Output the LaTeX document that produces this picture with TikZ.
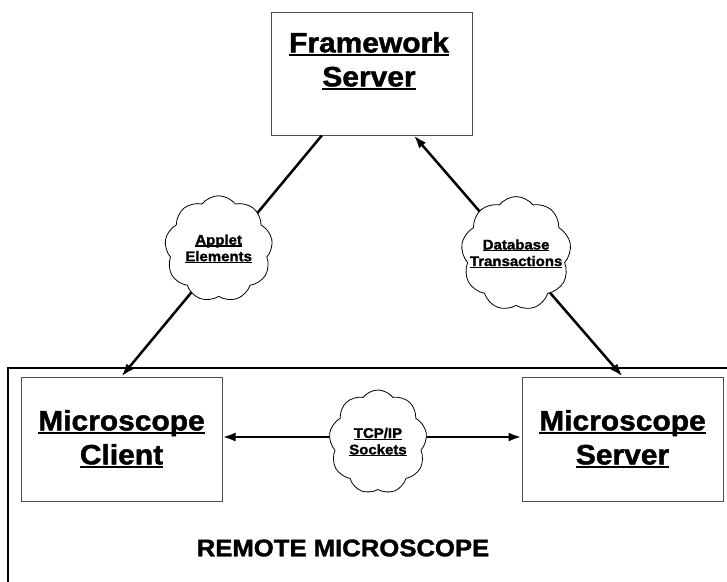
\documentclass[tikz,border=0pt]{standalone}
\usepackage{fontspec}
\setmainfont{Liberation Sans}
\newfontfamily\heavy[FakeBold=1.6,FakeStretch=1.07]{Liberation Sans Bold}
\usetikzlibrary{shapes.symbols,arrows.meta,calc}
\newcommand\ulx[1]{\setbox0\hbox{#1}\rlap{\usebox0}\raisebox{-0.13em}{\rule{\wd0}{0.08em}}}
\tikzset{
  boxnode/.style={draw=black!70, line width=1, minimum width=201, minimum height=124, inner sep=0},
  bigtext/.style={font=\heavy\fontsize{28}{34}\selectfont, align=center},
  cloudnode/.style={cloud, cloud puffs=9, cloud puff arc=105, draw, fill=white, line width=0.8,
     minimum width=106, minimum height=106, inner sep=0, align=center,
     font=\heavy\fontsize{14}{16.5}\selectfont},
  arr/.style={line width=2.5, -{Latex[length=13,width=9]}},
  darr/.style={line width=2.5, {Latex[length=13,width=9]}-{Latex[length=13,width=9]}}
}
\begin{document}
\begin{tikzpicture}[x=1pt,y=-1pt]
\useasboundingbox (0,0) rectangle (727,581);
\clip (0,0) rectangle (727,581);
\fill[white] (0,0) rectangle (727,581);
\draw[line width=2.5] (8,368) rectangle (780,640);
\node[boxnode, minimum height=123] (fw) at (371.5,73.5) {};
\node[bigtext] (fwtext) at (369,61) {\ulx{Framework}\\\ulx{Server}};
\node[boxnode, bigtext] (cl) at (121.5,439) {\ulx{Microscope}\\\ulx{Client}};
\node[boxnode, bigtext] (sv) at (622.5,439) {\ulx{Microscope}\\\ulx{Server}};
\coordinate (fwL) at ($(fw.south west)!0.254!(fw.south east)$);
\coordinate (fwR) at ($(fw.south west)!0.71!(fw.south east)$);
\draw[arr] (fwL) -- node[cloudnode, pos=0.47, xshift=-9, minimum width=108] (c1) {\ulx{Applet}\\\ulx{Elements}} (cl.north);
\draw[darr] (fwR) -- node[cloudnode, pos=0.49, minimum width=110, minimum height=114] (c2) {\makebox[62pt]{\ulx{Database}}\\\makebox[62pt]{\ulx{Transactions}}} (sv.north);
\draw[darr] (cl.east |- 0,437) -- node[cloudnode, pos=0.52, minimum width=98, minimum height=104, yshift=-5] (c3) {\ulx{TCP/IP}\\\ulx{Sockets}} (sv.west |- 0,437);
\node[font=\heavy\fontsize{24}{28}\selectfont] (rm) at (343,548) {REMOTE MICROSCOPE};
\end{tikzpicture}
\end{document}
